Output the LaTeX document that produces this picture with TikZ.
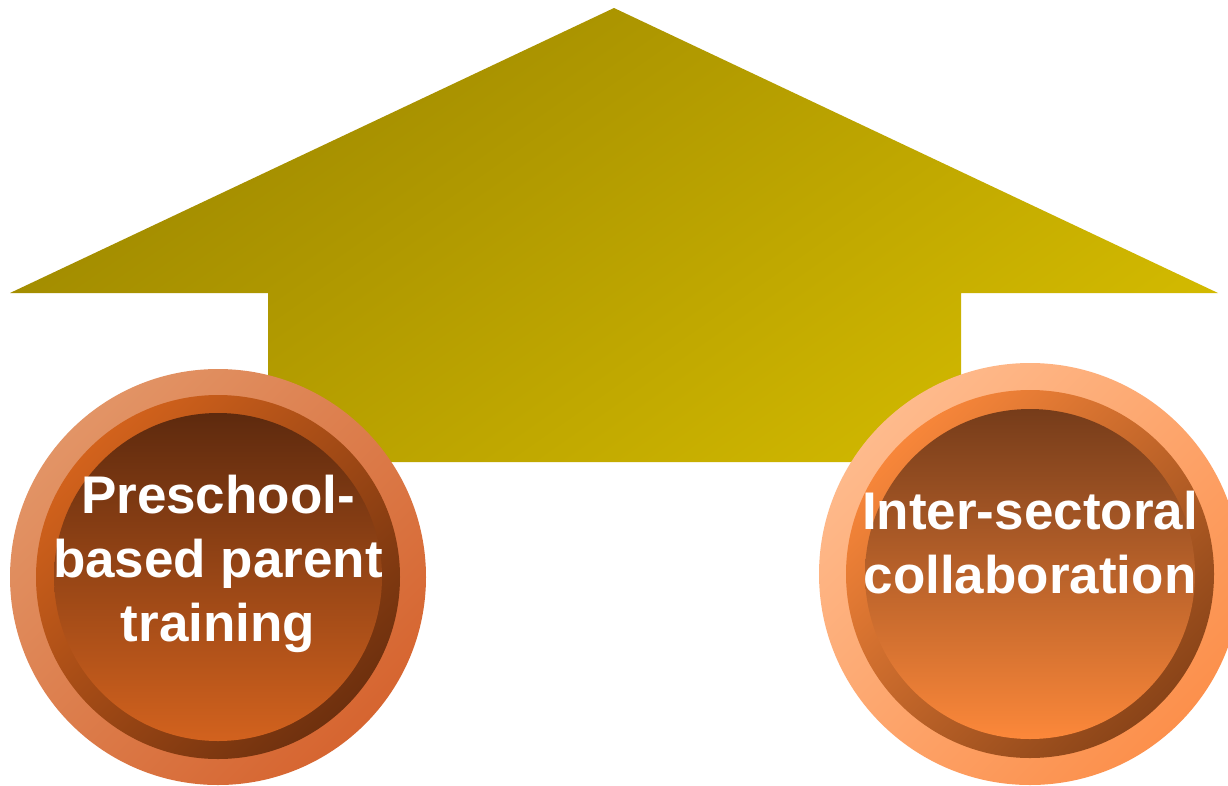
\documentclass[tikz,border=0pt]{standalone}
\usepackage{fontspec}
\setmainfont{Liberation Sans}
\usepackage{tikz}

\definecolor{arrowdark}{HTML}{9E8800}
\definecolor{arrowlight}{HTML}{D2B900}
\definecolor{lrimlight}{HTML}{E29466}
\definecolor{lrimdark}{HTML}{D66530}
\definecolor{lringlight}{HTML}{D2621C}
\definecolor{lringdark}{HTML}{6E300E}
\definecolor{lcoretop}{HTML}{5E2A0E}
\definecolor{lcorebot}{HTML}{D2621E}
\definecolor{rrimlight}{HTML}{FEBA8C}
\definecolor{rrimdark}{HTML}{FC904C}
\definecolor{rringlight}{HTML}{F7863A}
\definecolor{rringdark}{HTML}{8A4418}
\definecolor{rcoretop}{HTML}{763C1A}
\definecolor{rcorebot}{HTML}{FC883A}

\tikzset{
  disc/.style={circle, inner sep=0pt, draw=none},
  label text/.style={text=white, font=\bfseries\fontsize{53}{64}\selectfont, align=center}
}

\begin{document}
\begin{tikzpicture}[x=1pt, y=-1pt]

  \useasboundingbox (0,0) rectangle (1228,785);
  \fill[white] (0,0) rectangle (1228,785); %OZADJE

  % ARROW
  \shade[top color=arrowdark, bottom color=arrowlight, shading angle=35]
    (614,8) -- (1218,293) -- (961,293) -- (961,462) -- (268,462) -- (268,293) -- (10,293) -- cycle;

  % LEFT CIRCLE
  \node[disc, minimum size=416pt, top color=lrimlight, bottom color=lrimdark, shading angle=45] (prerim) at (218,577) {};
  \node[disc, minimum size=364pt, top color=lringlight, bottom color=lringdark, shading angle=45] (prering) at (prerim.center) {};
  \node[disc, minimum size=328pt, top color=lcoretop, bottom color=lcorebot] (precore) at (prerim.center) {};
  \node[label text] (pretext) at (218,564) {Preschool-\\based parent\\training};

  % RIGHT CIRCLE
  \node[disc, minimum size=422pt, top color=rrimlight, bottom color=rrimdark, shading angle=45] (colrim) at (1030,574) {};
  \node[disc, minimum size=368pt, top color=rringlight, bottom color=rringdark, shading angle=45] (colring) at (colrim.center) {};
  \node[disc, minimum size=330pt, top color=rcoretop, bottom color=rcorebot] (colcore) at (colrim.center) {};
  \node[label text] (coltext) at (1030,543) {Inter-sectoral\\collaboration};

\end{tikzpicture}
\end{document}
